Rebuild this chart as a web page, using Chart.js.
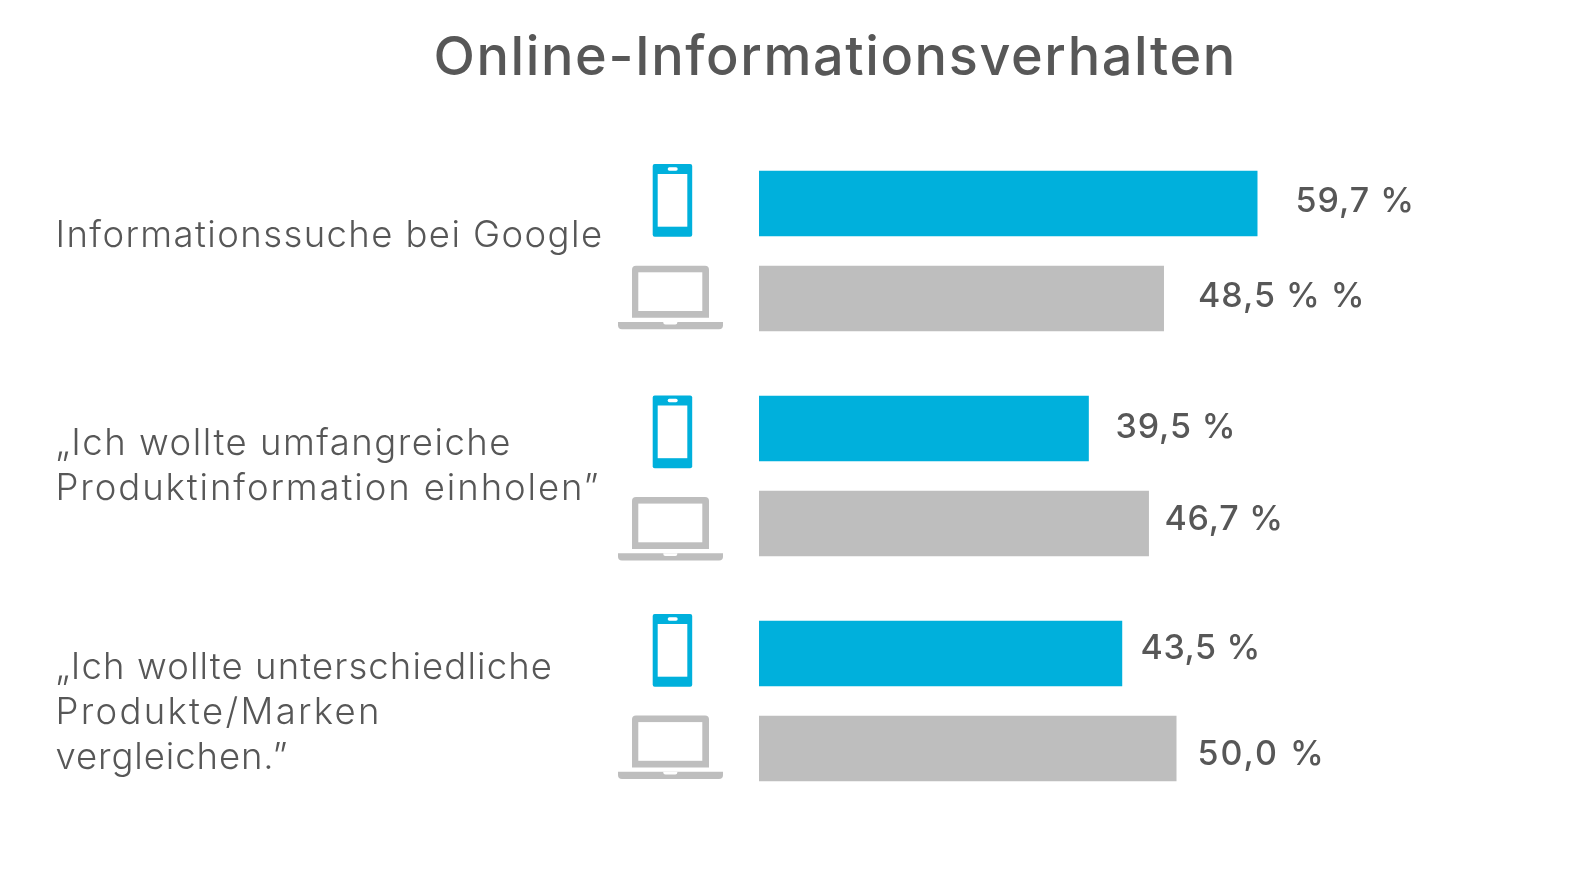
<!DOCTYPE html>
<html lang="de">
<head>
<meta charset="utf-8">
<title>Online-Informationsverhalten</title>
<script src="https://cdn.jsdelivr.net/npm/chart.js@4/dist/chart.umd.min.js"></script>
<style>
  html, body { margin: 0; background: #fff; }
  #wrap { width: 1578px; height: 892px; }
</style>
</head>
<body>
<div id="wrap"><canvas id="myChart" width="1578" height="892"></canvas></div>
<script>
'use strict';
// dane
var chartTitle = 'Online-Informationsverhalten';
var categories = [
    ['Informationssuche bei Google'],
    ['„Ich wollte umfangreiche', 'Produktinformation einholen”'],
    ['„Ich wollte unterschiedliche', 'Produkte/Marken', 'vergleichen.”']
];
var mobileValues = [59.7, 39.5, 43.5];
var desktopValues = [48.5, 46.7, 50.0];
var mobileLabels = ['59,7 %', '39,5 %', '43,5 %'];
var desktopLabels = ['48,5 % %', '46,7 %', '50,0 %'];

var TEXT = '#575757';
var BLUE = '#00B0DC';
var GREY = '#BEBEBE';

function drawText(ctx, text, x, y, font, spacing) {
    ctx.font = font;
    ctx.letterSpacing = (spacing || 0) + 'px';
    ctx.fillStyle = TEXT;
    ctx.textAlign = 'left';
    ctx.textBaseline = 'alphabetic';
    ctx.fillText(text, x, y);
}

function rounded(ctx, x, y, w, h, r) {
    ctx.beginPath();
    ctx.roundRect(x, y, w, h, r);
    ctx.fill();
}

// ikona telefonu
function drawPhone(ctx, top) {
    ctx.fillStyle = BLUE;
    rounded(ctx, 652.7, top, 39.5, 72.7, 2);
    ctx.fillStyle = '#fff';
    ctx.fillRect(657.7, top + 10, 29.6, 52.7);
    rounded(ctx, 667.7, top + 3.3, 10, 3.4, 1.7);
}

// ikona laptopa
function drawLaptop(ctx, top) {
    ctx.fillStyle = GREY;
    rounded(ctx, 632, top, 77, 52, [4, 4, 0, 0]);
    ctx.fillStyle = '#fff';
    ctx.fillRect(638.3, top + 6.6, 64, 38.7);
    ctx.fillStyle = GREY;
    rounded(ctx, 618, top + 56.3, 105, 7.3, [0, 0, 4, 4]);
    ctx.fillStyle = '#fff';
    rounded(ctx, 663.3, top + 56.3, 14, 2.6, [0, 0, 2, 2]);
}

var phoneTops = [164, 395.5, 614];
var laptopTops = [265.7, 497, 715.5];
var categoryBaselines = [[246.5], [454.5, 499.5], [678.5, 723.5, 769]];
// odstepy liter w wierszach, zeby szerokosc zgadzala sie z oryginalem
var categorySpacing = [[1.4], [1.5, 1.9], [1.1, 2.3, 0.9]];
// pozycje etykiet wartosci: [x, linia bazowa, odstep liter]
var mobileLabelPos = [[1295.5, 211.5, 1], [1115.5, 437.5, 0.9], [1140.5, 658.5, 0.6]];
var desktopLabelPos = [[1198, 306.5, 1], [1164.5, 529.5, 0.8], [1197.5, 764.5, 2]];

var annotations = {
    id: 'annotations',
    afterDatasetsDraw: function (chart) {
        var ctx = chart.ctx;
        ctx.save();
        drawText(ctx, chartTitle, 433.5, 75, '500 54px Inter', 1.6);
        categories.forEach(function (lines, i) {
            lines.forEach(function (line, j) {
                drawText(ctx, line, 55.5, categoryBaselines[i][j], '300 36.5px Inter', categorySpacing[i][j]);
            });
            drawPhone(ctx, phoneTops[i]);
            drawLaptop(ctx, laptopTops[i]);
            drawText(ctx, mobileLabels[i], mobileLabelPos[i][0], mobileLabelPos[i][1], '500 34px Inter', mobileLabelPos[i][2]);
            drawText(ctx, desktopLabels[i], desktopLabelPos[i][0], desktopLabelPos[i][1], '500 34px Inter', desktopLabelPos[i][2]);
        });
        ctx.restore();
    }
};

var ctx = document.getElementById('myChart').getContext('2d');

var chart = new Chart(ctx, {
    type: 'bar',
    data: {
        labels: categories,
        datasets: [{
            label: 'Mobil',
            backgroundColor: BLUE,
            data: mobileValues
        },
        {
            label: 'Desktop',
            backgroundColor: GREY,
            data: desktopValues
        }]
    },
    options: {
        indexAxis: 'y',
        responsive: false,
        animation: false,
        categoryPercentage: 0.844,
        barPercentage: 0.689,
        layout: {
            padding: { left: 759, right: 67.5, top: 138.5, bottom: 78.5 }
        },
        scales: {
            x: { display: false, min: 0, max: 90 },
            y: { display: false }
        },
        plugins: {
            legend: { display: false },
            tooltip: { enabled: false }
        }
    },
    plugins: [annotations]
});
</script>
</body>
</html>
